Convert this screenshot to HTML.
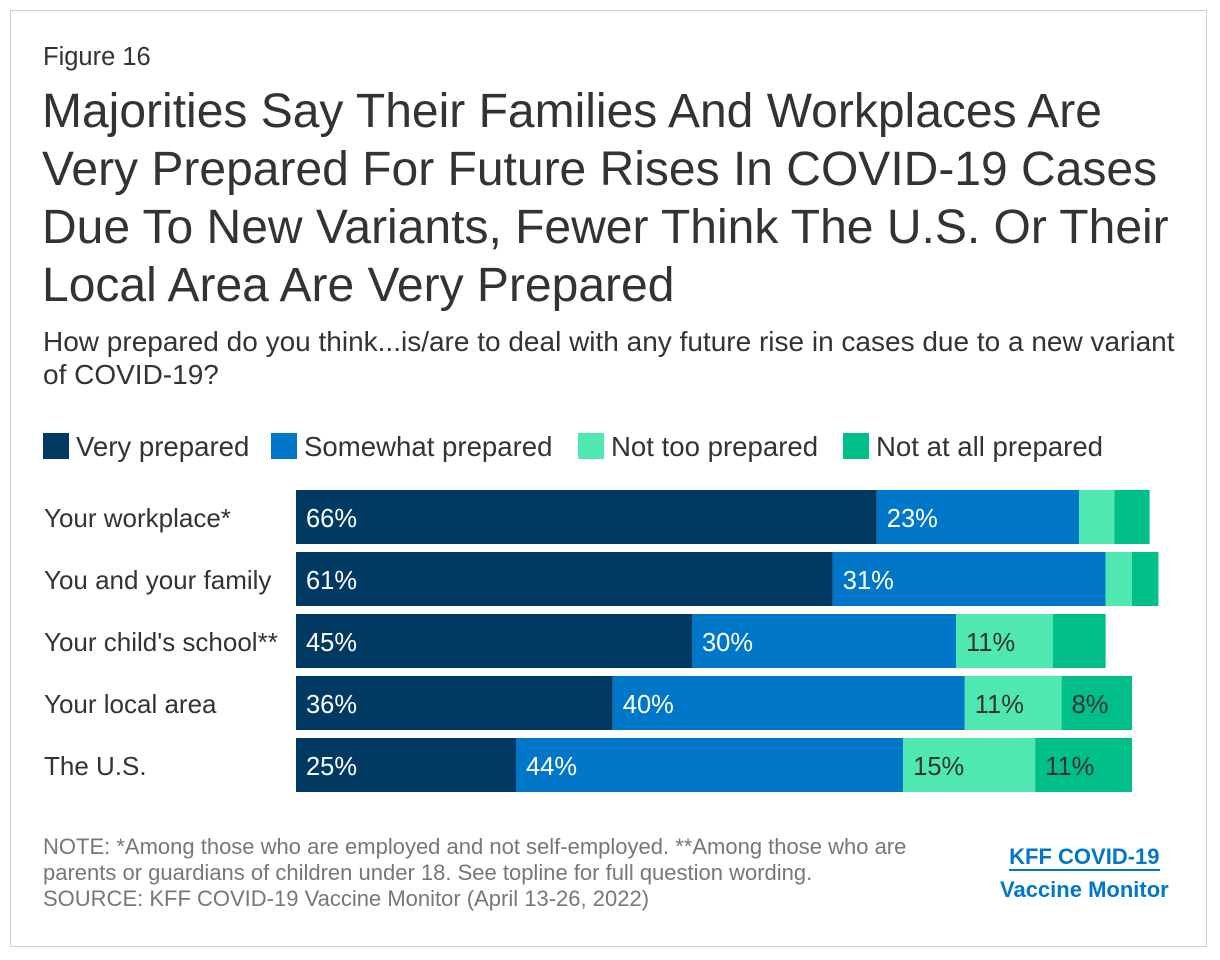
<!DOCTYPE html>
<html><head><meta charset="utf-8"><style>
body{margin:0;background:#fff;font-family:"Liberation Sans",sans-serif;}
#frame{position:absolute;left:10px;top:10px;width:1197px;height:937px;border:1px solid #cfcfcf;box-sizing:border-box}
.t{position:absolute;color:#333;white-space:nowrap}
</style></head><body>
<div id="frame"></div>
<div class="t" style="left:43px;top:43px;font-size:25.5px">Figure 16</div>
<div class="t" style="left:42px;top:83px;font-size:48px;line-height:58px">Majorities Say Their Families And Workplaces Are<br>Very Prepared For Future Rises In COVID-19 Cases<br>Due To New Variants, Fewer Think The U.S. Or Their<br>Local Area Are Very Prepared</div>
<div class="t" style="left:43px;top:325px;font-size:28px;line-height:33px">How prepared do you think...is/are to deal with any future rise in cases due to a new variant<br>of COVID-19?</div>
<svg width="1220" height="960" style="position:absolute;left:0;top:0" id="chart"></svg>
<div class="t" style="left:43px;top:834px;font-size:22px;line-height:26px;color:#777">NOTE: *Among those who are employed and not self-employed. **Among those who are<br>parents or guardians of children under 18. See topline for full question wording.<br>SOURCE: KFF COVID-19 Vaccine Monitor (April 13-26, 2022)</div>
<div class="t" style="left:1000px;top:840px;font-size:22px;font-weight:bold;color:#0077c8;line-height:33px;text-align:center"><span style="border-bottom:2px solid #0077c8">KFF COVID-19</span><br>Vaccine Monitor</div>
<script>
const categories=["Your workplace*","You and your family","Your child's school**","Your local area","The U.S."];
const seriesNames=["Very prepared","Somewhat prepared","Not too prepared","Not at all prepared"];
const veryPrepared=[66,61,45,36,25];
const somewhatPrepared=[23,31,30,40,44];
const notTooPrepared=[4,3,11,11,15];
const notAtAllPrepared=[4,3,6,8,11];
const showLabel=[[1,1,0,0],[1,1,0,0],[1,1,1,0],[1,1,1,1],[1,1,1,1]];
const colors=["#003a63","#0077c8","#4fe8b0","#00bf88"];
const NS="http://www.w3.org/2000/svg";
const svg=document.getElementById('chart');
const x0=296, pxPer=8.8, y0=490, barH=54, pitch=62;
const xs=v=>x0+v*pxPer;
const ys=i=>y0+i*pitch;
function mk(tag,attrs){const e=document.createElementNS(NS,tag);for(const k in attrs)e.setAttribute(k,attrs[k]);svg.appendChild(e);return e;}
const legX=[43,271,578,843];
seriesNames.forEach((n,j)=>{
  const r=mk('rect',{x:legX[j],y:433,width:26,height:26,fill:colors[j]});
  
  
  const t=mk('text',{x:legX[j]+33,y:456,'font-size':27.6,fill:'#333','font-family':'Liberation Sans, sans-serif'});
  t.textContent=n;
  
  
});
const series=[veryPrepared,somewhatPrepared,notTooPrepared,notAtAllPrepared];
categories.forEach((c,i)=>{
  const lt=mk('text',{x:44,y:ys(i)+37,'font-size':26,fill:'#333','font-family':'Liberation Sans, sans-serif'});
  lt.textContent=c;
  
  
  let cum=0;
  series.forEach((s,j)=>{
    const v=s[i];
    const r=mk('rect',{x:xs(cum),y:ys(i),width:v*pxPer,height:barH,fill:colors[j]});
    
    
    if(showLabel[i][j]){
      const t=mk('text',{x:xs(cum)+10,y:ys(i)+37,'font-size':25.5,fill:j>=2?'#333':'#fff','font-family':'Liberation Sans, sans-serif'});
      t.textContent=v+'%';
      
      
    }
    cum+=v;
  });
});
</script>
</body></html>
